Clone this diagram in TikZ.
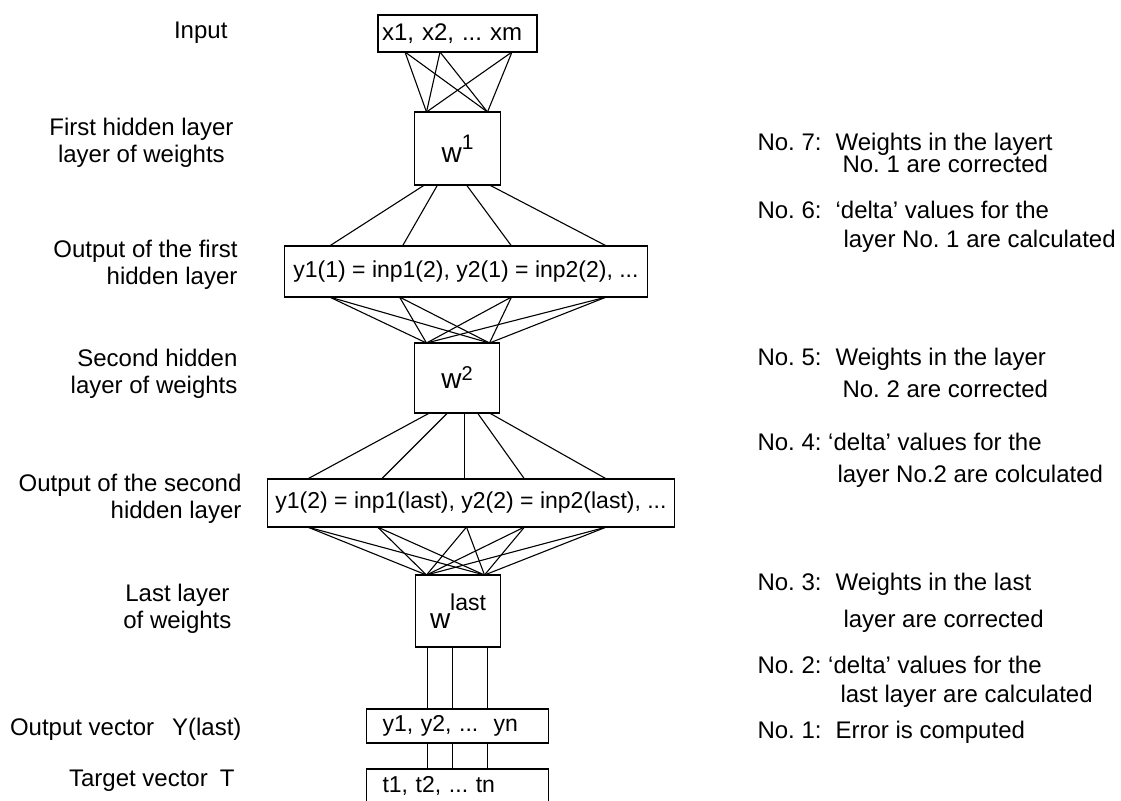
\documentclass[tikz,border=0pt]{standalone}
\usepackage{fontspec}
\setmainfont{Liberation Sans}
\usetikzlibrary{positioning}
\frenchspacing

\begin{document}
\begin{tikzpicture}[x=1pt, y=-1pt,
                    box/.style={draw, line width=1.1pt, inner sep=0pt, outer sep=0pt,
                                font=\fontsize{23}{28}\selectfont},
                    lbl/.style={inner sep=0pt, anchor=east, font=\fontsize{24}{27}\selectfont},
                    stepnote/.style={inner sep=0pt, anchor=north west, align=left,
                                     font=\fontsize{24}{28}\selectfont},
                    every path/.style={line width=1.1pt}]
\useasboundingbox (0,0) rectangle (1121,800);
% the column of layers
\node[box, text width=151, inner xsep=4pt, align=left, minimum height=37,
      font=\fontsize{24}{28}\selectfont] (inp) at (457.5,33.5) {x1, x2, ... xm};
\node[box, below=60pt of inp, minimum width=86, minimum height=73] (w1)
  {\fontsize{28}{28}\selectfont w\raisebox{13pt}{\fontsize{21}{21}\selectfont 1}};
\node[box, below=61pt of w1, xshift=8.5, minimum width=363, minimum height=51] (hid1)
  {y1(1) = inp1(2), y2(1) = inp2(2), ...};
\node[box, below=46pt of hid1, xshift=-9, minimum width=85, minimum height=70] (w2)
  {\fontsize{28}{28}\selectfont w\raisebox{8pt}{\fontsize{20}{20}\selectfont 2}};
\node[box, below=66pt of w2, xshift=14, minimum width=407, minimum height=48] (hid2)
  {y1(2) = inp1(last), y2(2) = inp2(last), ...};
\node[box, below=48pt of hid2, xshift=-13, minimum width=85, minimum height=72] (wl)
  {\fontsize{28}{28}\selectfont w\raisebox{18pt}{\fontsize{23}{23}\selectfont last}};
\node[box, below=62pt of wl, xshift=-0.5, text width=150, inner xsep=16pt, align=left, minimum height=34] (outv)
  {y1, y2, ...\ \ yn};
\node[box, below=26pt of outv, text width=150, inner xsep=16pt, align=left, minimum height=34] (tgt)
  {t1, t2, ... tn};

% connections
\foreach \a in {-52.5,-17.5,54.5}
  \foreach \b in {-31,30}
    \draw ([xshift=\a]inp.south) -- ([xshift=\b]w1.north);
\foreach \a/\b in {-33/-136.5,-20/-63.5,9/45.5,32/140.5}
  \draw ([xshift=\a]w1.south) -- ([xshift=\b]hid1.north);
\foreach \a in {-136.5,-66.5,45.5,140.5}
  \foreach \b in {-30.5,32.5}
    \draw ([xshift=\a]hid1.south) -- ([xshift=\b]w2.north);
\foreach \a/\b in {-27.5/-163.5,-9.5/-89.5,7.5/-6.5,20.5/53.5,32.5/135.5}
  \draw ([xshift=\a]w2.south) -- ([xshift=\b]hid2.north);
\foreach \a in {-163.5,-93.5,-4.5,53.5,135.5}
  \foreach \b in {-31.5,26.5}
    \draw ([xshift=\a]hid2.south) -- ([xshift=\b]wl.north);
\foreach \a/\b in {-30.5/-30,-5.5/-5,29.5/30}
  \draw ([xshift=\a]wl.south) -- ([xshift=\b]outv.north);
\foreach \a in {-30,-5,30}
  \draw ([xshift=\a]outv.south) -- ([xshift=\a]tgt.north);

% names on the left
\node[lbl] (lin) at (228,33) {Input};
\node[lbl, align=center] (lw1) at (234,143) {First hidden layer\\layer of weights};
\node[lbl, align=right] (lh1) at (238,265) {Output of the first\\hidden layer};
\node[lbl, align=right] (lw2) at (238,374) {Second hidden\\layer of weights};
\node[lbl, align=right] (lh2) at (242,499) {Output of the second\\hidden layer};
\node[lbl, align=center] (lwl) at (232,609) {Last layer\\of weights};
\node[lbl] (lout) at (242,729) {Output vector\hspace{18pt}Y(last)};
\node[lbl] (ltgt) at (235,781) {Target vector\hspace{12pt}T};

% steps on the right
\node[stepnote] (s7) at (757,132.5) {No. 7:\hspace{14pt}Weights in the layert\\[-6pt]\hspace*{85pt}No. 1 are corrected};
\node[stepnote] (s6) at (757,200.5) {No. 6:\hspace{14pt}`delta' values for the\\[1pt]\hspace*{86pt}layer No. 1 are calculated};
\node[stepnote] (s5) at (757,347.5) {No. 5:\hspace{14pt}Weights in the layer\\[4pt]\hspace*{85pt}No. 2 are corrected};
\node[stepnote] (s4) at (757,432.5) {No. 4: `delta' values for the\\[4pt]\hspace*{80pt}layer No.2 are colculated};
\node[stepnote] (s3) at (757,572.5) {No. 3:\hspace{14pt}Weights in the last\\[9pt]\hspace*{86pt}layer are corrected};
\node[stepnote] (s2) at (757,655.5) {No. 2: `delta' values for the\\[1pt]\hspace*{83pt}last layer are calculated};
\node[stepnote] (s1) at (757,720.5) {No. 1:\hspace{14pt}Error is computed};
\end{tikzpicture}
\end{document}
